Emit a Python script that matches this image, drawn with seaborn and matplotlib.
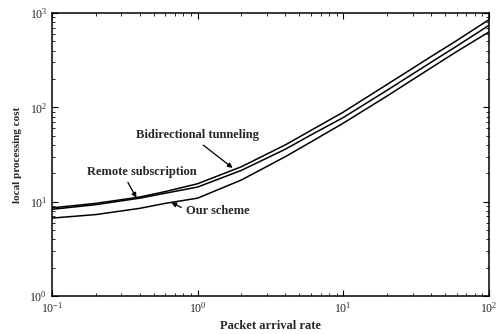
import numpy as np
import pandas as pd
import matplotlib
matplotlib.use("Agg")
import matplotlib.pyplot as plt
import seaborn as sns

# values
rate = [0.1, 0.2, 0.4, 0.6, 1.0, 2.0, 4.0, 6.0, 10.0, 20.0, 40.0, 60.0, 100.0]
bidirectional = [8.6, 9.6, 11.2, 12.8, 15.5, 23.5, 40.0, 57.0, 89.0, 175.0, 345.0, 510.0, 850.0]
remote = [8.3, 9.3, 10.9, 12.3, 14.3, 21.5, 36.0, 51.0, 78.0, 152.0, 300.0, 445.0, 740.0]
ours = [6.7, 7.3, 8.5, 9.6, 10.9, 17.0, 30.0, 43.0, 68.0, 132.0, 262.0, 390.0, 630.0]

names = ["Bidirectional tunneling", "Remote subscription", "Our scheme"]
df = pd.DataFrame({
    "rate": rate * 3,
    "cost": bidirectional + remote + ours,
    "scheme": [names[0]] * len(rate) + [names[1]] * len(rate) + [names[2]] * len(rate),
})

sns.set_style("ticks")
plt.rcParams["font.family"] = ["Liberation Serif", "DejaVu Serif"]

fig = plt.figure(figsize=(4.97, 3.34), dpi=100)
ax = fig.add_axes([0.1046, 0.1138, 0.879, 0.847])

sns.lineplot(data=df, x="rate", y="cost", hue="scheme",
             palette=["black"] * 3, linewidth=1.1, legend=False, ax=ax)

ax.set_xscale("log")
ax.set_yscale("log")
ax.set_xlim(0.1, 100)
ax.set_ylim(1, 1000)

ax.tick_params(which="both", direction="in", top=True, right=True,
               labelsize=8.5, color="black")
ax.tick_params(which="major", length=4)
ax.tick_params(which="minor", length=2)
for s in ax.spines.values():
    s.set_linewidth(1.1)
    s.set_color("black")

ax.set_xlabel("Packet arrival rate", fontsize=9, fontweight="bold", labelpad=3)
ax.set_ylabel("local processing cost", fontsize=8, fontweight="bold", labelpad=5)

arrow = dict(arrowstyle="-|>", color="black", lw=0.9, mutation_scale=7,
             shrinkA=1, shrinkB=0)
ax.annotate("Bidirectional tunneling", xy=(1.74, 22.8), xytext=(0.38, 51),
            fontsize=9, fontweight="bold", va="center",
            arrowprops=dict(arrow, relpos=(0.5, 0)))
ax.annotate("Remote subscription", xy=(0.38, 11.0), xytext=(0.174, 20.7),
            fontsize=9, fontweight="bold", va="center",
            arrowprops=dict(arrow, relpos=(0.35, 0)))
ax.annotate("Our scheme", xy=(0.66, 9.8), xytext=(0.83, 8.0),
            fontsize=9, fontweight="bold", va="center",
            arrowprops=dict(arrow, relpos=(0, 0.6)))

fig.savefig("out.png", dpi=100)
